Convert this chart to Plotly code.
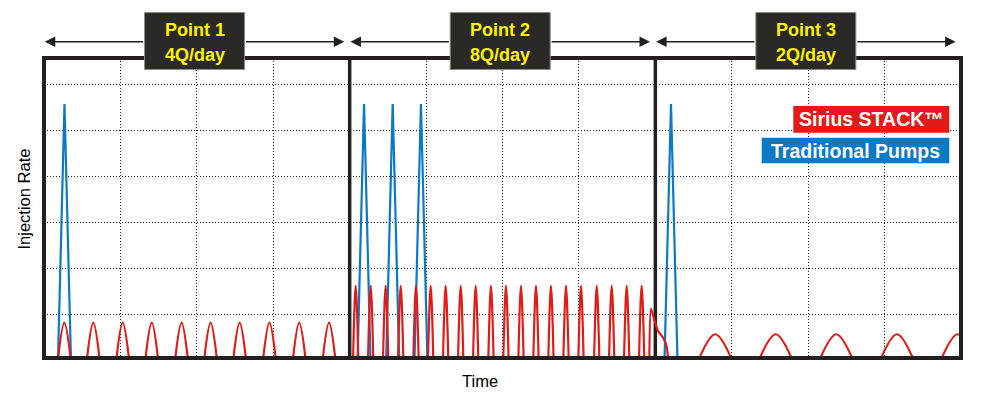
import plotly.graph_objects as go

# ---------------- data ----------------
segment_labels = ["Point 1", "Point 2", "Point 3"]
segment_rates = ["4Q/day", "8Q/day", "2Q/day"]
segment_edges = [0, 4, 8, 12]

series_names = ["Sirius STACK™", "Traditional Pumps"]

# Traditional pumps: spike centres (time) and peak injection rate
trad_centers = [0.268, 4.188, 4.563, 4.933, 8.205]
trad_peak = 5.57
trad_halfwidth = 0.085

# Sirius STACK pulses, segment 1 (4Q/day)
stack1_centers = [0.266, 0.645, 1.03, 1.41, 1.80, 2.18, 2.56, 2.95, 3.34, 3.73]
stack1_peak = 0.82
stack1_halfwidth = 0.085

# Sirius STACK pulses, segment 2 (8Q/day)
stack2_centers = [4.079, 4.275, 4.471, 4.668, 4.868, 5.060, 5.256, 5.453, 5.649, 5.849,
                  6.045, 6.242, 6.438, 6.634, 6.831, 7.027, 7.233, 7.429, 7.625, 7.821]
stack2_peak = 1.62
stack2_halfwidth = 0.035

# Sirius STACK pulses, segment 3 (2Q/day)
stack3_centers = [8.784, 9.575, 10.368, 11.162, 11.956]
stack3_peak = 0.57
stack3_halfwidth = 0.222

# Sirius STACK transition between segment 2 and 3
trans_x = [7.921, 7.943, 7.995, 8.038, 8.104, 8.148, 8.169]
trans_y = [0, 1.12, 0.84, 0.63, 0.49, 0.30, 0]

# ---------------- styles ----------------
RED = "#e21b17"
BLUE = "#0a79c8"
INK = "#231f20"
FONT = "Liberation Sans, Arial, Helvetica, sans-serif"


def pulses(centers, peak, hw):
    xs, ys = [], []
    for c in centers:
        xs += [c - hw, c, c + hw, None]
        ys += [0, peak, 0, None]
    return xs, ys


fig = go.Figure()

bx, by = pulses(trad_centers, trad_peak, trad_halfwidth)
fig.add_trace(go.Scatter(x=bx, y=by, mode="lines", name=series_names[1],
                         line=dict(color=BLUE, width=2.2), connectgaps=False))

for cs, pk, hw in [(stack1_centers, stack1_peak, stack1_halfwidth),
                   (stack2_centers, stack2_peak, stack2_halfwidth),
                   (stack3_centers, stack3_peak, stack3_halfwidth)]:
    rx, ry = pulses(cs, pk, hw)
    fig.add_trace(go.Scatter(x=rx, y=ry, mode="lines", name=series_names[0],
                             line=dict(color=RED, width=2.2, shape="spline"),
                             connectgaps=False))

fig.add_trace(go.Scatter(x=trans_x, y=trans_y, mode="lines", name=series_names[0],
                         line=dict(color=RED, width=2.2, shape="spline", smoothing=0.6)))

# ---------------- layout ----------------
L, R, T, B = 44, 42, 58, 41
W, H = 1003, 399
plot_w = W - L - R
plot_h = H - T - B


def px_x(px):
    return (px - L) / plot_w


def px_y(py):
    return (H - B - py) / plot_h


grid = dict(showgrid=True, gridcolor="#222222", gridwidth=1, griddash="1px,2px",
            showticklabels=False, ticks="", zeroline=False, showline=False,
            dtick=1, tick0=0, fixedrange=True)

fig.update_layout(
    width=W, height=H,
    margin=dict(l=L, r=R, t=T, b=B),
    plot_bgcolor="white", paper_bgcolor="white",
    showlegend=False,
    xaxis=dict(range=[segment_edges[0], segment_edges[-1]], **grid),
    yaxis=dict(range=[0.054, 6.567], **grid),
    font=dict(family=FONT, color="black"),
)

shapes = []
# dividers between segments
for e in segment_edges[1:-1]:
    shapes.append(dict(type="line", xref="x", yref="paper", x0=e, x1=e, y0=0, y1=1,
                       line=dict(color=INK, width=3.5), layer="between"))
# outer frame
shapes.append(dict(type="rect", xref="paper", yref="paper", x0=0, x1=1, y0=0, y1=1,
                   line=dict(color=INK, width=4), layer="above"))

annotations = []
box_half = 50 / plot_w * (segment_edges[-1] - segment_edges[0])
for i, (lab, rate) in enumerate(zip(segment_labels, segment_rates)):
    lo, hi = segment_edges[i], segment_edges[i + 1]
    mid = (lo + hi) / 2 - 0.03
    shapes.append(dict(type="rect", xref="x", yref="paper",
                       x0=mid - box_half, x1=mid + box_half,
                       y0=px_y(69.5), y1=px_y(12.5),
                       fillcolor="#2a2926", line=dict(color="#8c8c8c", width=1),
                       layer="above"))
    arrow_y = px_y(41.7)
    # left arrow piece
    annotations.append(dict(xref="x", yref="paper", x=lo + 0.01, y=arrow_y,
                            axref="x", ayref="pixel", ax=mid - box_half, ay=0,
                            text="", showarrow=True, arrowhead=2, arrowsize=1.4,
                            arrowwidth=1.5, arrowcolor=INK, standoff=0))
    # right arrow piece
    annotations.append(dict(xref="x", yref="paper", x=hi - 0.07, y=arrow_y,
                            axref="x", ayref="pixel", ax=mid + box_half, ay=0,
                            text="", showarrow=True, arrowhead=2, arrowsize=1.4,
                            arrowwidth=1.5, arrowcolor=INK, standoff=0))
    annotations.append(dict(xref="x", yref="paper", x=mid, y=px_y(30),
                            text=f"<b>{lab}</b>", showarrow=False,
                            xanchor="center", yanchor="middle",
                            font=dict(family=FONT, size=18, color="#fff200")))
    annotations.append(dict(xref="x", yref="paper", x=mid, y=px_y(55),
                            text=f"<b>{rate}</b>", showarrow=False,
                            xanchor="center", yanchor="middle",
                            font=dict(family=FONT, size=18, color="#fff200")))

# legend boxes
legend_items = [
    (series_names[0], RED, 793.3, 949.3, 106, 132.7),
    (series_names[1], BLUE, 761.7, 949.3, 137.7, 163.3),
]
for name, col, x0, x1, y0, y1 in legend_items:
    shapes.append(dict(type="rect", xref="paper", yref="paper",
                       x0=px_x(x0), x1=px_x(x1), y0=px_y(y1), y1=px_y(y0),
                       fillcolor=col, line=dict(width=0), layer="above"))
    annotations.append(dict(xref="paper", yref="paper",
                            x=px_x((x0 + x1) / 2), y=px_y((y0 + y1) / 2),
                            text=f"<b>{name}</b>", showarrow=False,
                            xanchor="center", yanchor="middle",
                            font=dict(family=FONT, size=19.5, color="white")))

# axis titles
annotations.append(dict(xref="paper", yref="paper", x=px_x(480), y=px_y(381),
                        text="Time", showarrow=False, xanchor="center", yanchor="middle",
                        font=dict(family=FONT, size=16.5, color="black")))
annotations.append(dict(xref="paper", yref="paper", x=px_x(23.5), y=px_y(199),
                        text="Injection Rate", showarrow=False, textangle=-90,
                        xanchor="center", yanchor="middle",
                        font=dict(family=FONT, size=16.5, color="black")))

fig.update_layout(shapes=shapes, annotations=annotations)

fig.write_html("out.html", config={"displayModeBar": False},
               post_script="document.body.style.margin='0px';document.body.style.overflow='hidden';")
